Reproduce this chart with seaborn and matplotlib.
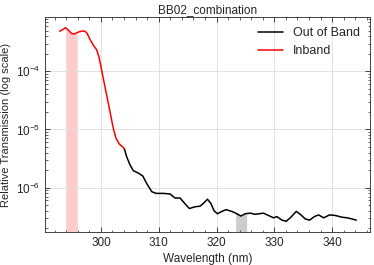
import numpy as np
import pandas as pd
import seaborn as sns
import matplotlib.pyplot as plt
from matplotlib.ticker import AutoMinorLocator

# Inband segment (wavelength in nm, log10 of relative transmission)
inband_wl = [292.84, 293.29, 293.88, 294.33, 294.92, 295.37, 295.96, 296.66,
             297.23, 297.63, 298.09, 298.67, 299.25, 299.65, 300.00, 300.40,
             300.99, 301.56, 302.13, 302.60, 303.17, 303.86, 304.04]
inband_log = [-3.31, -3.29, -3.25, -3.29, -3.35, -3.36, -3.33, -3.31,
              -3.31, -3.35, -3.45, -3.55, -3.63, -3.75, -3.92, -4.12,
              -4.41, -4.69, -4.98, -5.15, -5.25, -5.31, -5.33]

# Out of band segment
oob_wl = [304.04, 304.45, 305.03, 305.60, 306.46, 307.23, 307.92, 308.79,
          309.53, 310.80, 311.96, 312.82, 313.69, 314.56, 315.30, 316.29,
          317.16, 317.85, 318.42, 319.01, 319.58, 320.16, 320.92, 321.66,
          322.65, 323.52, 324.21, 324.96, 325.82, 326.69, 328.13, 328.99,
          329.86, 330.45, 331.32, 332.06, 332.76, 333.80, 334.49, 335.36,
          336.10, 336.92, 337.66, 338.53, 339.57, 340.55, 341.72, 342.58,
          343.45, 344.19]
oob_log = [-5.33, -5.47, -5.61, -5.71, -5.75, -5.80, -5.93, -6.07,
           -6.10, -6.10, -6.11, -6.18, -6.18, -6.28, -6.36, -6.33,
           -6.32, -6.26, -6.20, -6.27, -6.40, -6.45, -6.41, -6.38,
           -6.41, -6.45, -6.49, -6.45, -6.44, -6.46, -6.44, -6.48,
           -6.52, -6.50, -6.56, -6.58, -6.52, -6.41, -6.46, -6.54,
           -6.56, -6.50, -6.47, -6.52, -6.47, -6.48, -6.51, -6.52,
           -6.54, -6.56]

# shaded bands (nm)
inband_span = (293.9, 295.9)
oob_span = (323.3, 325.2)

df_in = pd.DataFrame({'wl': inband_wl, 'T': 10 ** np.array(inband_log)})
df_out = pd.DataFrame({'wl': oob_wl, 'T': 10 ** np.array(oob_log)})

sns.set_style('ticks')
plt.rcParams['font.family'] = ['Liberation Sans', 'DejaVu Sans']
plt.rcParams['mathtext.fontset'] = 'dejavusans'

fig, ax = plt.subplots(figsize=(3.74, 2.65), dpi=100)

sns.lineplot(data=df_out, x='wl', y='T', color='black', lw=1.1,
             label='Out of Band', ax=ax)
sns.lineplot(data=df_in, x='wl', y='T', color='red', lw=1.1,
             label='Inband', ax=ax)

ymin = 1.73e-7


def shade(span, wl, logs, color):
    xs = np.linspace(span[0], span[1], 50)
    top = 10 ** np.interp(xs, wl, logs)
    ax.fill_between(xs, ymin, top, color=color, lw=0, zorder=0)


shade(inband_span, inband_wl, inband_log, '#ffcccc')
shade(oob_span, oob_wl, oob_log, '#cccccc')

ax.set_yscale('log')
ax.set_xlim(290.3, 346.6)
ax.set_ylim(ymin, 8.5e-4)
ax.set_xticks([300, 310, 320, 330, 340])
ax.xaxis.set_minor_locator(AutoMinorLocator(5))
ax.tick_params(which='both', direction='in', top=True, right=True, labelsize=8.5)
ax.tick_params(which='major', length=3.5, width=0.6)
ax.tick_params(which='minor', length=1.8, width=0.5)
for s in ax.spines.values():
    s.set_linewidth(0.6)
ax.grid(True, which='major', color='#dddddd', lw=0.6)

ax.set_xlabel('Wavelength (nm)', fontsize=8.5, labelpad=3)
ax.set_ylabel('Relative Transmission (log scale)', fontsize=8, labelpad=3)
ax.set_title('BB02_combination', fontsize=8.5, pad=3)
ax.legend(frameon=False, fontsize=9, loc='upper right', handlelength=2.0,
          borderaxespad=0.4)

fig.subplots_adjust(left=0.12, right=0.99, top=0.935, bottom=0.125)
fig.savefig('out.png', dpi=100)
